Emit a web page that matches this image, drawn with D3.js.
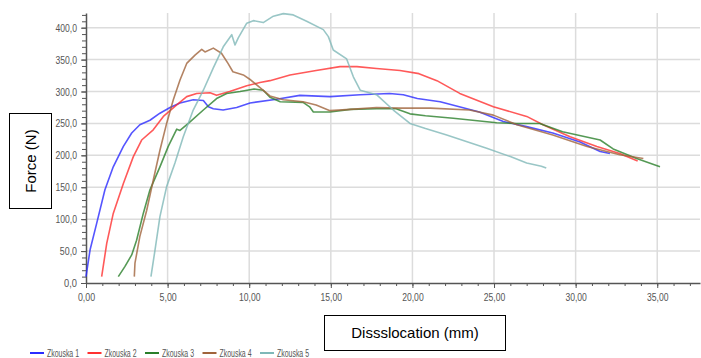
<!DOCTYPE html>
<html>
<head>
<meta charset="utf-8">
<script src="https://cdn.jsdelivr.net/npm/d3@7"></script>
<style>
  body { margin: 0; background: #fff; }
  svg { display: block; }
</style>
</head>
<body>
<div id="chart"></div>
<script>
// series names
var seriesNames = ["Zkouska 1", "Zkouska 2", "Zkouska 3", "Zkouska 4", "Zkouska 5"];
var seriesColors = ["#2b2bff", "#ff3030", "#2a7f2a", "#a0643c", "#7fb8b8"];

// [dislocation mm, force N]
var zkouska1 = [[0,10],[0.25,52],[0.65,93],[1.16,146],[1.67,182],[2.29,214],[2.8,235],[3.3,248],[3.92,255],[4.53,266],[5.15,275],[5.76,282],[6.57,287],[7.19,286],[7.5,276],[7.8,273],[8.4,271],[9.23,275],[10.05,282],[11.68,288],[13.1,294],[14.95,292],[16.8,295],[18.6,297],[19.44,295],[20.3,289],[21.7,284],[24.1,268],[25.57,253],[27.0,245],[28.6,235],[30.27,221],[31.5,206],[32.1,203]];
var zkouska2 = [[0.96,10],[1.27,62],[1.67,109],[2.29,156],[2.9,198],[3.41,224],[4.12,240],[4.74,261],[5.56,279],[6.17,292],[6.78,297],[7.6,298],[8.0,294],[8.8,300],[9.85,309],[10.66,314],[11.27,317],[12.5,326],[14.1,333],[15.56,339],[16.6,339],[17.8,336],[19.24,333],[20.4,328],[21.5,317],[22.9,297],[24.96,276],[27.0,261],[28.0,248],[29.66,229],[31.3,214],[32.7,203],[33.8,191]];
var zkouska3 = [[1.98,10],[2.39,26],[2.8,44],[3.1,67],[3.51,109],[3.92,146],[4.53,182],[5.04,214],[5.56,241],[5.76,239],[6.27,250],[7.19,271],[8.0,289],[8.62,297],[9.44,300],[10.3,304],[10.86,302],[11.27,291],[11.9,284],[13.3,283],[13.7,276],[13.93,268],[14.95,268],[16.2,272],[17.8,273],[19.0,273],[19.85,265],[20.8,262],[22.5,258],[25.16,251],[26.4,250],[27.8,250],[29.2,237],[31.5,224],[32.3,210],[33.74,195],[35.17,182]];
var zkouska4 = [[2.96,10],[3.0,31],[3.3,73],[3.72,114],[4.12,161],[4.53,208],[4.94,250],[5.35,287],[5.76,318],[6.17,344],[6.68,357],[7.09,366],[7.29,362],[7.8,368],[8.3,360],[8.7,344],[9.0,331],[9.64,326],[10.1,318],[10.66,306],[11.27,293],[12.09,287],[13.3,284],[14.1,279],[14.95,270],[16.2,272],[17.8,275],[19.24,274],[21.1,274],[23.5,271],[24.96,263],[26.4,248],[28.6,232],[30.7,214],[32.7,201],[34.15,195]];
var zkouska5 = [[3.98,10],[4.23,52],[4.53,104],[4.94,151],[5.45,188],[5.96,229],[6.57,271],[7.19,302],[7.8,337],[8.41,370],[8.93,389],[9.13,373],[9.33,384],[9.85,407],[10.25,411],[10.86,408],[11.48,418],[12.09,422],[12.7,420],[13.52,410],[14.54,397],[14.85,386],[15.15,365],[15.97,351],[16.38,323],[16.8,302],[17.8,295],[18.83,271],[19.85,250],[20.8,242],[22.1,232],[24.55,211],[26.0,198],[27.0,188],[27.9,183],[28.2,180]];
var allSeries = [zkouska1, zkouska2, zkouska3, zkouska4, zkouska5];

var xTicks = [0, 5, 10, 15, 20, 25, 30, 35];
var yTicks = [0, 50, 100, 150, 200, 250, 300, 350, 400];

var width = 701, height = 358;
var mLeft = 86, mRight = 700, mTop = 13, mBottom = 283;

var svg = d3.select("#chart")
  .append("svg")
  .attr("width", width)
  .attr("height", height);

var x = d3.scaleLinear().domain([0, 37.62]).range([mLeft, mRight]);
var y = d3.scaleLinear().domain([0, 423]).range([mBottom, mTop]);

var tickFont = "'Liberation Sans', Arial, sans-serif";
var comma = function(f) { return function(d) { return d3.format(f)(d).replace(".", ","); }; };

// grid
svg.append("g")
  .selectAll("line")
  .data(yTicks.slice(1))
  .enter().append("line")
  .attr("x1", mLeft).attr("x2", mRight)
  .attr("y1", function(d){ return y(d); }).attr("y2", function(d){ return y(d); })
  .style("stroke", "#dcdcdc").style("stroke-width", 1.5);

svg.append("g")
  .selectAll("line")
  .data(xTicks.slice(1))
  .enter().append("line")
  .attr("x1", function(d){ return x(d); }).attr("x2", function(d){ return x(d); })
  .attr("y1", mTop).attr("y2", mBottom)
  .style("stroke", "#dcdcdc").style("stroke-width", 1.5);

// minor ticks
svg.append("g")
  .attr("transform", "translate(0," + mBottom + ")")
  .call(d3.axisBottom(x).tickValues(d3.range(1, 38)).tickSize(3).tickFormat(""))
  .call(function(g){ g.select(".domain").remove(); g.selectAll("line").style("stroke", "#555"); });

svg.append("g")
  .attr("transform", "translate(" + mLeft + ",0)")
  .call(d3.axisLeft(y).tickValues(d3.range(10, 421, 10)).tickSize(4).tickFormat(""))
  .call(function(g){ g.select(".domain").remove(); g.selectAll("line").style("stroke", "#555"); });

// major axes
var xAxis = svg.append("g")
  .attr("transform", "translate(0," + mBottom + ")")
  .call(d3.axisBottom(x).tickValues(xTicks).tickSize(5).tickSizeOuter(0).tickPadding(5).tickFormat(comma(".2f")));

var yAxis = svg.append("g")
  .attr("transform", "translate(" + mLeft + ",0)")
  .call(d3.axisLeft(y).tickValues(yTicks).tickSize(5).tickSizeOuter(0).tickPadding(4).tickFormat(comma(".1f")));

[xAxis, yAxis].forEach(function(g){
  g.select(".domain").style("stroke", "#555").style("stroke-width", 1.5);
  g.selectAll("line").style("stroke", "#555");
  g.selectAll("text")
    .style("fill", "#555").style("font-family", tickFont).style("font-size", "11px")
    .attr("textLength", function(){ return this.textContent.length * 4.3; })
    .attr("lengthAdjust", "spacingAndGlyphs");
});

// lines
var line = d3.line()
  .x(function(d){ return x(d[0]); })
  .y(function(d){ return y(d[1]); });

svg.append("g")
  .selectAll("path")
  .data(allSeries)
  .enter().append("path")
  .attr("d", line)
  .style("fill", "none")
  .style("stroke", function(d, i){ return seriesColors[i]; })
  .style("stroke-opacity", 0.8)
  .style("stroke-width", 1.6)
  .style("stroke-linejoin", "round");

// axis title boxes
svg.append("rect")
  .attr("x", 9.5).attr("y", 113.5).attr("width", 42).attr("height", 95)
  .style("fill", "#fff").style("stroke", "#000").style("stroke-width", 1);
svg.append("text")
  .attr("transform", "translate(36,161) rotate(-90)")
  .attr("text-anchor", "middle")
  .style("font-family", "Arial, 'Liberation Sans', sans-serif")
  .style("font-size", "15px")
  .text("Force (N)");

svg.append("rect")
  .attr("x", 324.5).attr("y", 315.5).attr("width", 181).attr("height", 35)
  .style("fill", "#fff").style("stroke", "#000").style("stroke-width", 1);
svg.append("text")
  .attr("x", 415).attr("y", 338)
  .attr("text-anchor", "middle")
  .style("font-family", "Arial, 'Liberation Sans', sans-serif")
  .style("font-size", "15px")
  .text("Dissslocation (mm)");

// legend
var legend = svg.append("g")
  .selectAll("g")
  .data(seriesNames)
  .enter().append("g")
  .attr("transform", function(d, i){ return "translate(" + (30 + i * 57.5) + ",353)"; });

legend.append("line")
  .attr("x1", 0).attr("x2", 14)
  .style("stroke", function(d, i){ return seriesColors[i]; })
  .style("stroke-width", 2);

legend.append("text")
  .attr("x", 17).attr("dy", "0.35em")
  .attr("textLength", 32)
  .attr("lengthAdjust", "spacingAndGlyphs")
  .style("font-family", tickFont)
  .style("font-size", "10px")
  .style("fill", "#555")
  .text(function(d){ return d; });
</script>
</body>
</html>
